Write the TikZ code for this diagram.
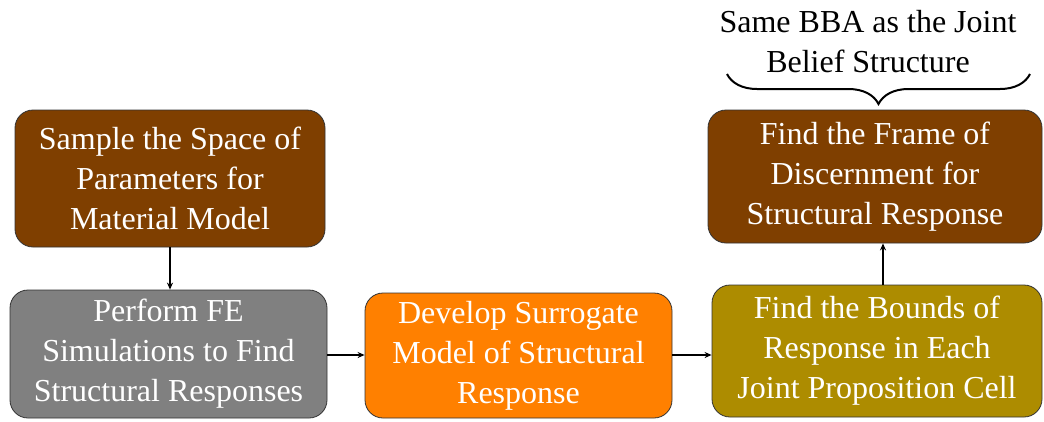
\documentclass[tikz,border=0pt]{standalone}
\usepackage{fontspec}
\setmainfont{Liberation Serif}
\usetikzlibrary{arrows.meta,decorations.pathreplacing}
\definecolor{boxbrown}{HTML}{7F3F00}
\definecolor{boxgray}{HTML}{808080}
\definecolor{boxorange}{HTML}{FF8000}
\definecolor{boxolive}{HTML}{AD8C00}
\tikzset{
  stepbox/.style={draw=black!80, line width=0.8pt, rounded corners=18pt,
    text=white, align=center, inner sep=0pt,
    font=\fontsize{32}{40}\selectfont},
  flow/.style={-{Stealth[length=7pt,width=6pt]}, line width=1.6pt, black},
}
\begin{document}
\begin{tikzpicture}[x=1pt,y=-1pt]
\useasboundingbox (0,0) rectangle (1044,421);

\node[stepbox, fill=boxbrown, minimum width=310pt, minimum height=137pt] (sample) at (170,178.5)
  {Sample the Space of\\Parameters for\\Material Model};
\node[stepbox, fill=boxgray, minimum width=317pt, minimum height=128pt] (fe) at (168.5,354)
  {Perform FE\\Simulations to Find\\Structural Responses};
\node[stepbox, fill=boxorange, minimum width=307pt, minimum height=125pt] (surr) at (518.5,355.5)
  {Develop Surrogate\\Model of Structural\\Response};
\node[stepbox, fill=boxolive, minimum width=330pt, minimum height=132pt] (bounds) at (877,351)
  {Find the Bounds of\\Response in Each\\Joint Proposition Cell};
\node[stepbox, fill=boxbrown, minimum width=334pt, minimum height=133pt] (frame) at (875,176.5)
  {Find the Frame of\\Discernment for\\Structural Response};

\node[align=center, font=\fontsize{32}{40}\selectfont] (note) at (868,42)
  {Same BBA as the Joint\\Belief Structure};

\coordinate (braceL) at (727,74);
\coordinate (braceR) at (1030,74);
\draw[line width=2pt, decorate, decoration={brace, amplitude=30pt, aspect=0.5}]
  (braceR) -- (braceL);

\draw[flow] (sample.south -| 170,0) -- (fe.north -| 170,0);
\draw[flow] (fe.east |- 0,355) -- (surr.west |- 0,355);
\draw[flow] (surr.east |- 0,355) -- (bounds.west |- 0,355);
\draw[flow] (bounds.north -| 883,0) -- (frame.south -| 883,0);
\end{tikzpicture}
\end{document}
